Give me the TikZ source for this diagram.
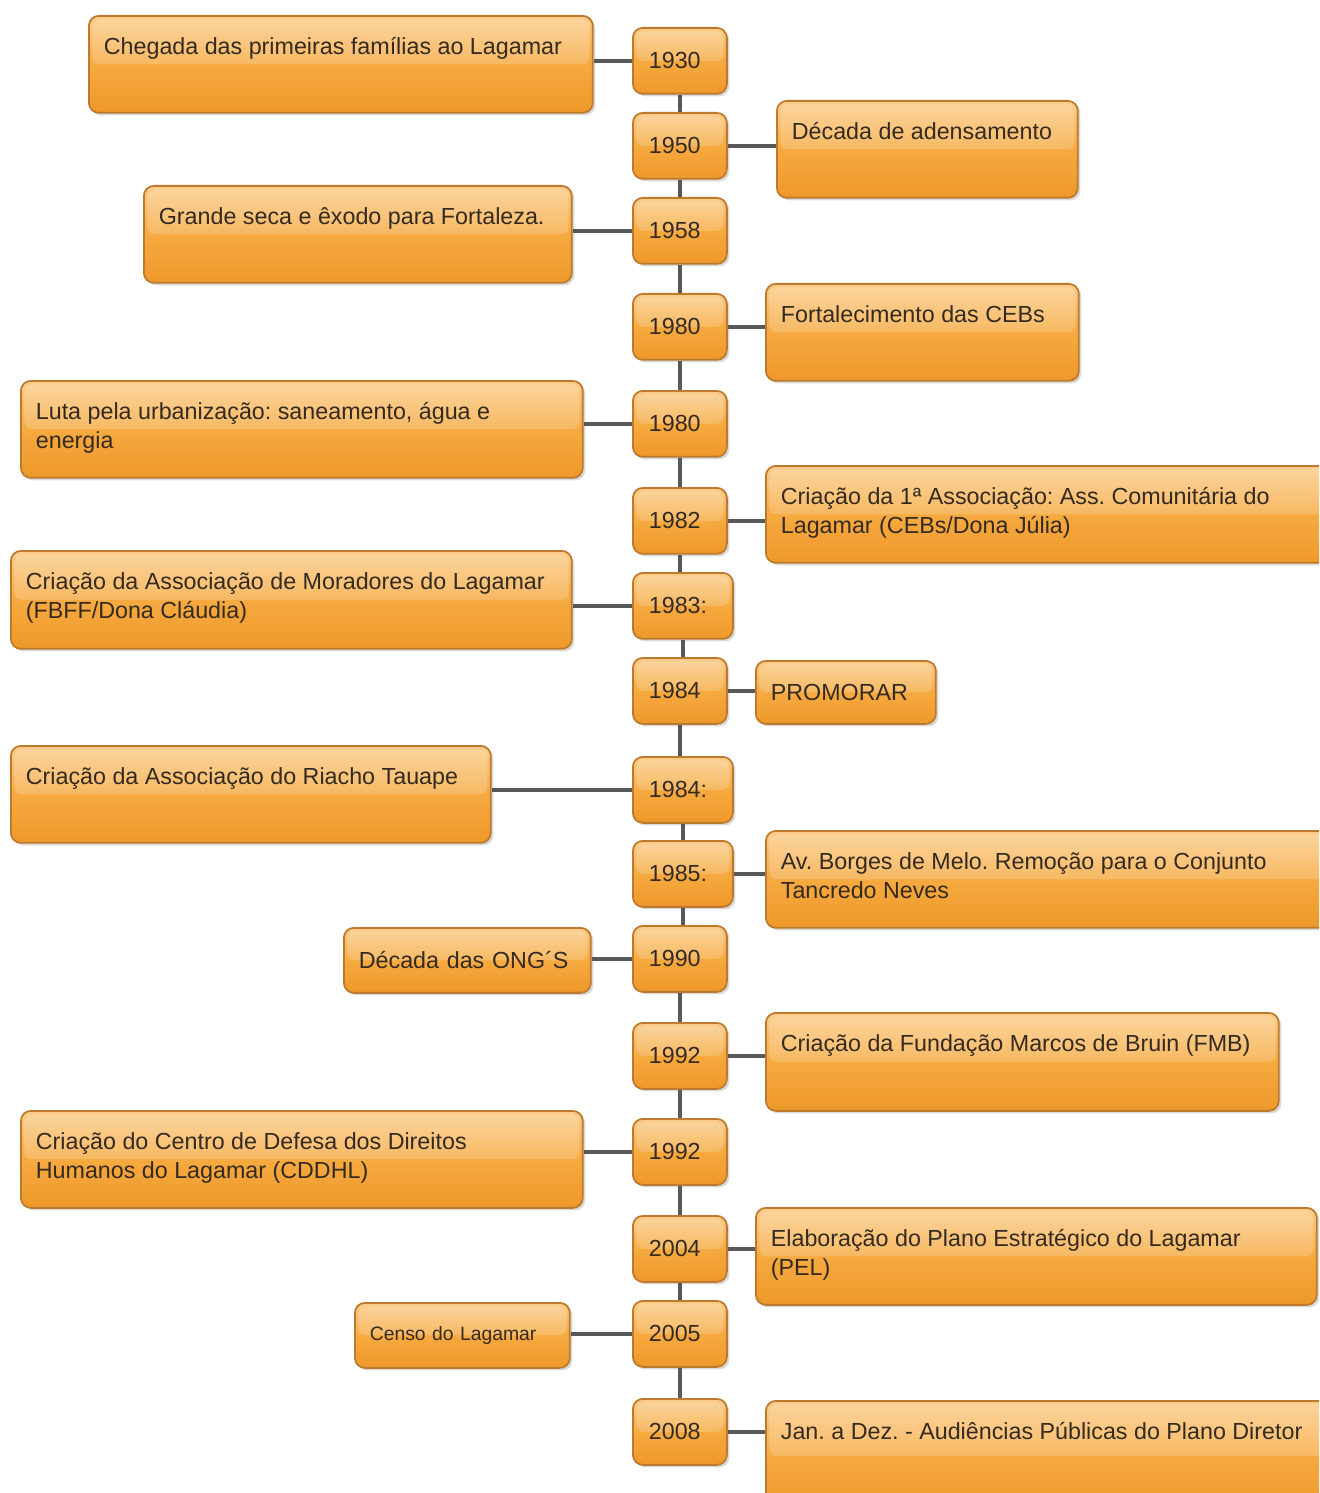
\documentclass[tikz,border=0pt]{standalone}
\usepackage{fontspec}
\setmainfont{Liberation Sans}
\usetikzlibrary{shadows}
\definecolor{laranjaclaro}{RGB}{251,205,140}
\definecolor{laranja}{RGB}{246,170,64}
\definecolor{laranjaescuro}{RGB}{238,152,42}
\definecolor{borda}{RGB}{190,122,44}
\definecolor{texto}{RGB}{52,42,32}
\definecolor{cinza}{RGB}{88,88,88}
\frenchspacing
% caixa de texto alinhada no topo
\newcommand{\caixa}[3]{\parbox[c][\dimexpr#2-0.74cm][t]{\dimexpr#1-0.6cm}{\strut#3}}
\begin{document}
\begin{tikzpicture}[x=0.02cm,y=-0.02cm,
  caixa/.style={draw=borda,line width=1pt,rounded corners=0.2cm,
    top color=laranjaclaro,bottom color=laranjaescuro,middle color=laranja,
    drop shadow={opacity=0.3,shadow xshift=0.05cm,shadow yshift=-0.05cm},
    path picture={\fill[white,opacity=0.18,rounded corners=0.15cm]
      ([xshift=2pt,yshift=-2pt]path picture bounding box.north west) rectangle
      ([xshift=-2pt]path picture bounding box.east);},
    text=texto,font=\fontsize{13.25pt}{16.5pt}\selectfont},
  ano/.style={caixa,anchor=north west,inner xsep=0.32cm,inner ysep=0pt,
    text width=1.24cm,align=left,minimum height=1.32cm},
  evento/.style={caixa,anchor=north west,inner xsep=0.3cm,inner ysep=0.37cm},
  curto/.style={caixa,anchor=north west,inner xsep=0.3cm,inner ysep=0pt,align=left},
  linha/.style={draw=cinza,line width=2.2pt}]
\useasboundingbox (0,0) rectangle (1319,1493);
\clip (0,0) rectangle (1319,1493);

% anos
\node[ano] (a1) at (632,27) {1930};
\node[ano] (a2) at (632,112) {1950};
\node[ano] (a3) at (632,197) {1958};
\node[ano] (a4) at (632,293) {1980};
\node[ano] (a5) at (632,390) {1980};
\node[ano] (a6) at (632,487) {1982};
\node[ano,text width=1.36cm] (a7) at (632,572) {1983:};
\node[ano] (a8) at (632,657) {1984};
\node[ano,text width=1.36cm] (a9) at (632,756) {1984:};
\node[ano,text width=1.36cm] (a10) at (632,840) {1985:};
\node[ano] (a11) at (632,925) {1990};
\node[ano] (a12) at (632,1022) {1992};
\node[ano] (a13) at (632,1118) {1992};
\node[ano] (a14) at (632,1215) {2004};
\node[ano] (a15) at (632,1300) {2005};
\node[ano] (a16) at (632,1398) {2008};

% eventos
\node[evento] (e1) at (88,15) {\caixa{10.08cm}{1.94cm}{Chegada das primeiras famílias ao Lagamar}};
\node[evento] (e2) at (776,100) {\caixa{6.02cm}{1.94cm}{Década de adensamento}};
\node[evento] (e3) at (143,185) {\caixa{8.56cm}{1.94cm}{Grande seca e êxodo para Fortaleza.}};
\node[evento] (e4) at (765,283) {\caixa{6.26cm}{1.94cm}{Fortalecimento das CEBs}};
\node[evento] (e5) at (20,380) {\caixa{11.24cm}{1.94cm}{Luta pela urbanização: saneamento, água e\\energia}};
\node[evento] (e6) at (765,465) {\caixa{12cm}{1.94cm}{Criação da 1ª Associação: Ass. Comunitária do\\Lagamar (CEBs/Dona Júlia)}};
\node[evento] (e7) at (10,550) {\caixa{11.22cm}{1.96cm}{Criação da Associação de Moradores do Lagamar\\(FBFF/Dona Cláudia)}};
\node[curto,text width=3.0cm,minimum height=1.26cm] (e8) at (755,660) {PROMORAR};
\node[evento] (e9) at (10,745) {\caixa{9.6cm}{1.94cm}{Criação da Associação do Riacho Tauape}};
\node[evento] (e10) at (765,830) {\caixa{12cm}{1.94cm}{Av. Borges de Melo. Remoção para o Conjunto\\Tancredo Neves}};
\node[curto,text width=4.34cm,minimum height=1.3cm] (e11) at (343,927) {Década das ONG´S};
\node[evento] (e12) at (765,1012) {\caixa{10.26cm}{1.96cm}{Criação da Fundação Marcos de Bruin (FMB)}};
\node[evento] (e13) at (20,1110) {\caixa{11.24cm}{1.94cm}{Criação do Centro de Defesa dos Direitos\\Humanos do Lagamar (CDDHL)}};
\node[evento] (e14) at (755,1207) {\caixa{11.22cm}{1.94cm}{Elaboração do Plano Estratégico do Lagamar\\(PEL)}};
\node[curto,text width=3.7cm,minimum height=1.3cm,font=\fontsize{11pt}{13pt}\selectfont] (e15) at (354,1302) {Censo do Lagamar};
\node[evento] (e16) at (765,1400) {\caixa{12cm}{2.2cm}{Jan. a Dez. - Audiências Públicas do Plano Diretor}};

% ligacoes
\foreach \i [count=\j from 2] in {1,...,15}
  \draw[linha] (a\i.south) -- (a\i.south |- a\j.north);
\foreach \i/\l/\r in {1/west/east,2/east/west,3/west/east,4/east/west,
    5/west/east,6/east/west,7/west/east,8/east/west,9/west/east,10/east/west,
    11/west/east,12/east/west,13/west/east,14/east/west,15/west/east,16/east/west}
  \draw[linha] (a\i.\l) -- (a\i.\l -| e\i.\r);

\end{tikzpicture}
\end{document}
